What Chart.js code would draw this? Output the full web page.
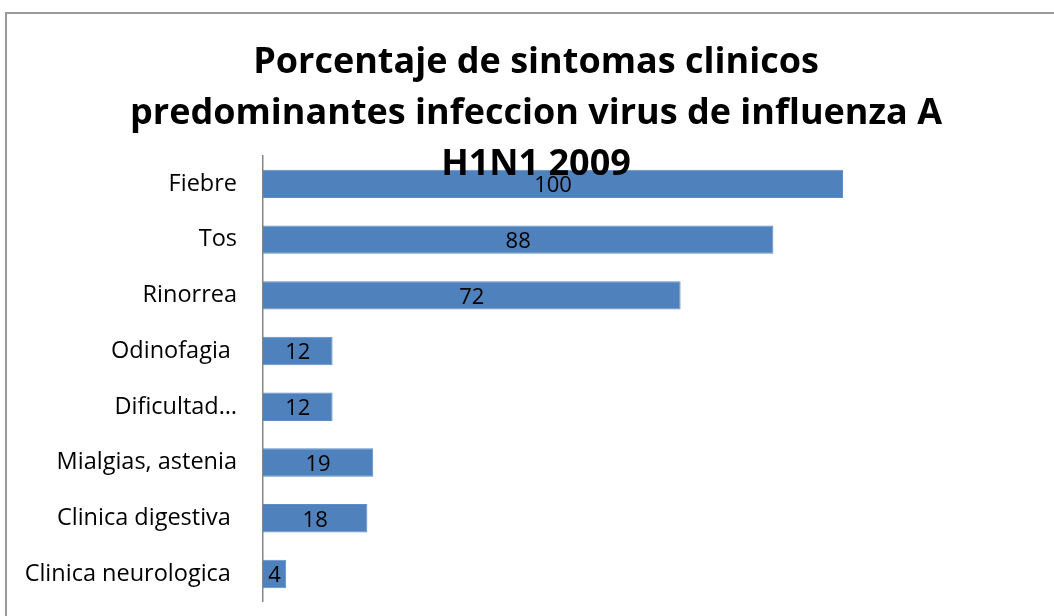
<!DOCTYPE html>
<html>
<head>
<meta charset="utf-8">
<script src="https://cdn.jsdelivr.net/npm/chart.js@4.4.1/dist/chart.umd.min.js"></script>
<style>
  html, body { margin: 0; padding: 0; background: #ffffff; }
  #wrap { position: relative; width: 1054px; height: 616px; overflow: hidden; }
  #frame { position: absolute; left: 5px; top: 12px; width: 1100px; height: 700px;
           border-top: 2px solid #9a9a9a; border-left: 2px solid #9a9a9a; box-sizing: border-box; }
  #c { position: absolute; left: 0; top: 0; }
</style>
</head>
<body>
<div id="wrap">
  <div id="frame"></div>
  <canvas id="c" width="1054" height="616"></canvas>
</div>
<script>
const categories = ["Fiebre", "Tos", "Rinorrea", "Odinofagia ", "Dificultad…", "Mialgias, astenia", "Clinica digestiva ", "Clinica neurologica "];
const values = [100, 88, 72, 12, 12, 19, 18, 4];
const titleLines = ["Porcentaje de sintomas clinicos", "predominantes infeccion virus de influenza A", "H1N1 2009"];

const FONT = "'Open Sans', Lato, 'Liberation Sans', sans-serif";

// Title drawn over the plot (its last line overlaps the first bar, as in the reference)
const overlayTitle = {
  id: 'overlayTitle',
  afterDatasetsDraw(chart) {
    const ctx = chart.ctx;
    ctx.save();
    ctx.font = "bold 36px " + FONT;
    ctx.fillStyle = "#000000";
    ctx.textAlign = "center";
    ctx.textBaseline = "alphabetic";
    const baselines = [73, 124, 175];
    titleLines.forEach((t, i) => ctx.fillText(t, 536, baselines[i]));
    ctx.restore();
  }
};

const valueLabels = {
  id: 'valueLabels',
  afterDatasetsDraw(chart) {
    const ctx = chart.ctx;
    const meta = chart.getDatasetMeta(0);
    ctx.save();
    ctx.font = "22px " + FONT;
    ctx.fillStyle = "#000000";
    ctx.textAlign = "center";
    ctx.textBaseline = "middle";
    meta.data.forEach((bar, i) => {
      const cx = (bar.x + bar.base) / 2;
      ctx.fillText(String(values[i]), cx, bar.y + 2);
    });
    ctx.restore();
  }
};

new Chart(document.getElementById('c'), {
  type: 'bar',
  data: {
    labels: categories,
    datasets: [{
      data: values,
      backgroundColor: '#4F81BD',
      borderColor: '#5B8DC9',
      borderWidth: 1,
      barPercentage: 0.51,
      categoryPercentage: 1.0
    }]
  },
  options: {
    indexAxis: 'y',
    responsive: false,
    animation: false,
    devicePixelRatio: 1,
    layout: { padding: { left: 0, right: 211, top: 156, bottom: 14 } },
    plugins: {
      legend: { display: false },
      tooltip: { enabled: false },
      title: { display: false }
    },
    scales: {
      x: {
        display: false,
        min: 0,
        max: 100,
        afterFit(scale) { scale.height = 0; }
      },
      y: {
        afterFit(scale) { scale.width = 263; },
        grid: { display: true, drawOnChartArea: false, drawTicks: true, tickLength: 26, tickColor: 'rgba(0,0,0,0)' },
        border: { display: true, color: '#868686', width: 1.5 },
        ticks: {
          color: '#000000',
          padding: 0,
          font: { family: FONT, size: 23.5 }
        }
      }
    }
  },
  plugins: [overlayTitle, valueLabels]
});
</script>
</body>
</html>
